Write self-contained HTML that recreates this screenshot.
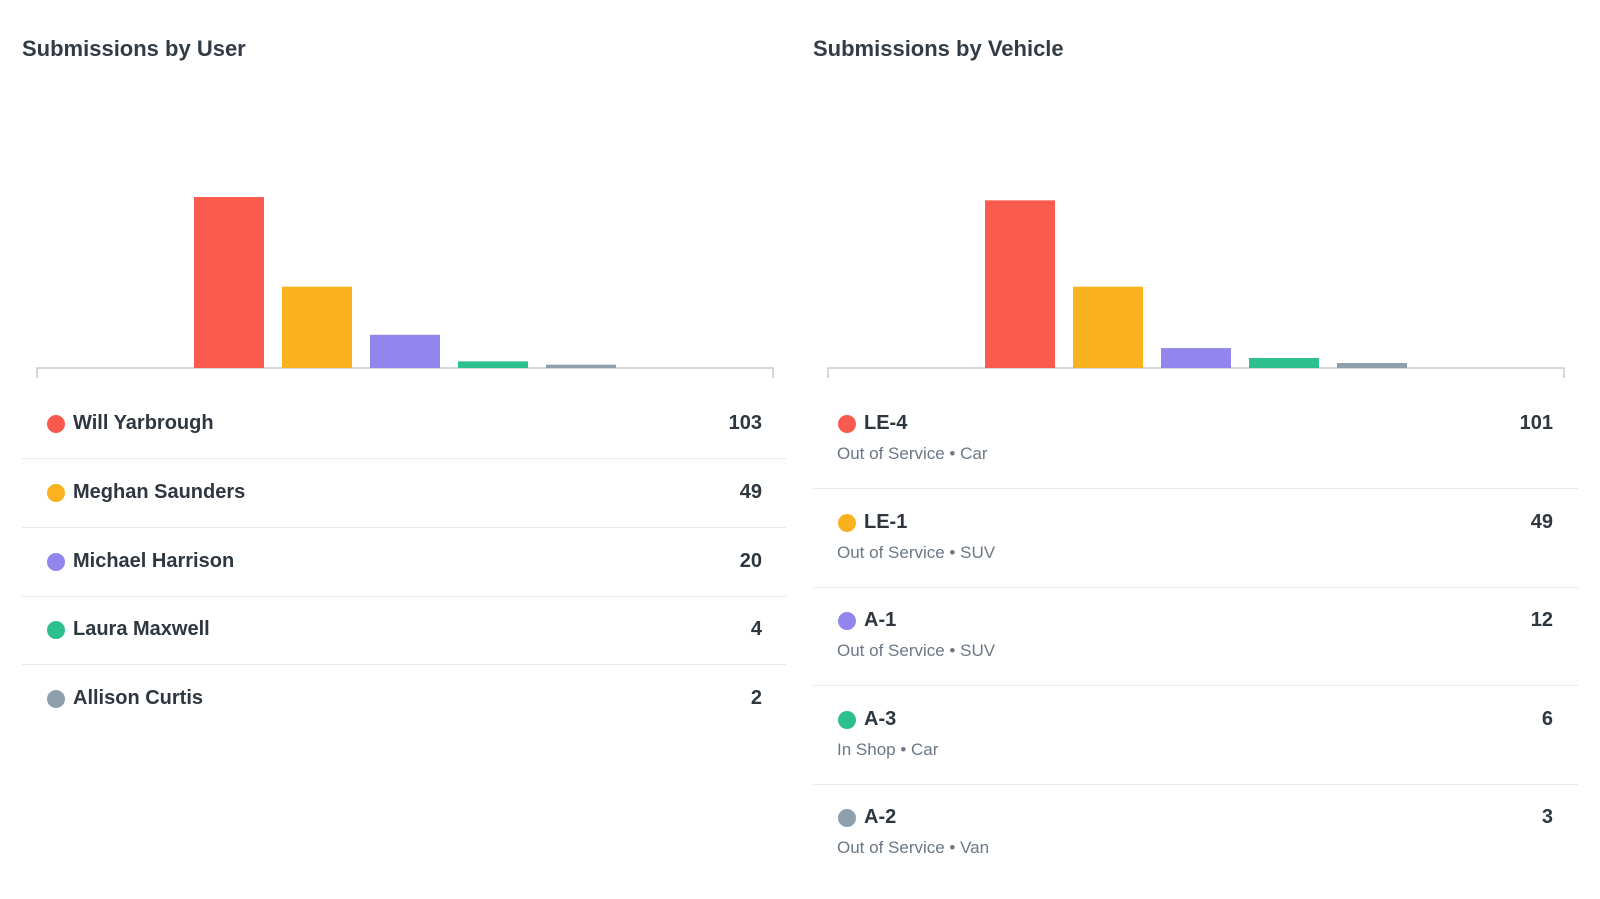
<!DOCTYPE html>
<html><head><meta charset="utf-8"><style>
body{margin:0;width:1600px;height:899px;background:#fff;font-family:"Liberation Sans",sans-serif;color:#2e3640;position:relative;overflow:hidden}
.t{position:absolute;font-size:22px;font-weight:bold;color:#333b45;top:36px}
.row{position:absolute;border-bottom:1.5px solid #e6ecec}
.dot{position:absolute;width:18px;height:18px;border-radius:50%}
.nm{position:absolute;font-size:20px;font-weight:bold;color:#2e3640;white-space:nowrap}
.val{position:absolute;font-size:20px;font-weight:bold;color:#2e3640;text-align:right;width:100px}
.sub{position:absolute;font-size:17px;color:#6b7785;white-space:nowrap}
</style></head><body>
<div class="t" style="left:22px">Submissions by User</div>
<div class="t" style="left:813px">Submissions by Vehicle</div>
<svg id="svg" width="1600" height="899" style="position:absolute;left:0;top:0"></svg>
<div id="lists"></div>
<script>
const colors=["#fb5b4f","#fab31e","#9286ee","#2dbf8d","#8e9fac"];
const userNames=["Will Yarbrough","Meghan Saunders","Michael Harrison","Laura Maxwell","Allison Curtis"];
const userValues=[103,49,20,4,2];
const vehicleNames=["LE-4","LE-1","A-1","A-3","A-2"];
const vehicleSubs=["Out of Service • Car","Out of Service • SUV","Out of Service • SUV","In Shop • Car","Out of Service • Van"];
const vehicleValues=[101,49,12,6,3];
const NS="http://www.w3.org/2000/svg";
const svg=document.getElementById('svg');
const yScale=v=>v*1.66;
function chart(x0,x1,vals,prefix){
  const base=368;
  const ax=document.createElementNS(NS,'path');
  ax.setAttribute('d',`M${x0} ${base+10}V${base}H${x1}V${base+10}`);
  ax.setAttribute('fill','none');ax.setAttribute('stroke','#c3ccd2');ax.setAttribute('stroke-width','1.5');
  
  
  svg.appendChild(ax);
  const pitch=88,w=70,mid=(x0+x1)/2,start=mid-(vals.length*pitch-(pitch-w))/2;
  vals.forEach((v,i)=>{
    const r=document.createElementNS(NS,'rect');
    const h=Math.max(yScale(v),1.5);
    r.setAttribute('x',start+i*pitch);r.setAttribute('width',w);
    r.setAttribute('y',base-h);r.setAttribute('height',h);r.setAttribute('fill',colors[i]);
    
    
    svg.appendChild(r);
  });
}
chart(37,773,userValues,'user');
chart(828,1564,vehicleValues,'vehicle');
const L=document.getElementById('lists');
function add(html){L.insertAdjacentHTML('beforeend',html);}
userNames.forEach((n,i)=>{
  const c=424+i*68.8;
  if(i<4) add(`<div class="row" style="left:22px;width:764px;top:${c+34}px"></div>`);
  add(`<div class="dot" style="left:47px;top:${c-9}px;background:${colors[i]}"></div>`);
  add(`<div class="nm" style="left:73px;top:${c-12}px">${n}</div>`);
  add(`<div class="val" style="left:662px;top:${c-12}px">${userValues[i]}</div>`);
});
vehicleNames.forEach((n,i)=>{
  const c=424+i*98.6;
  if(i<4) add(`<div class="row" style="left:813px;width:765px;top:${c+64}px"></div>`);
  add(`<div class="dot" style="left:838px;top:${c-9}px;background:${colors[i]}"></div>`);
  add(`<div class="nm" style="left:864px;top:${c-12}px">${n}</div>`);
  add(`<div class="sub" style="left:837px;top:${c+20}px">${vehicleSubs[i]}</div>`);
  add(`<div class="val" style="left:1453px;top:${c-12}px">${vehicleValues[i]}</div>`);
});
</script>
</body></html>
